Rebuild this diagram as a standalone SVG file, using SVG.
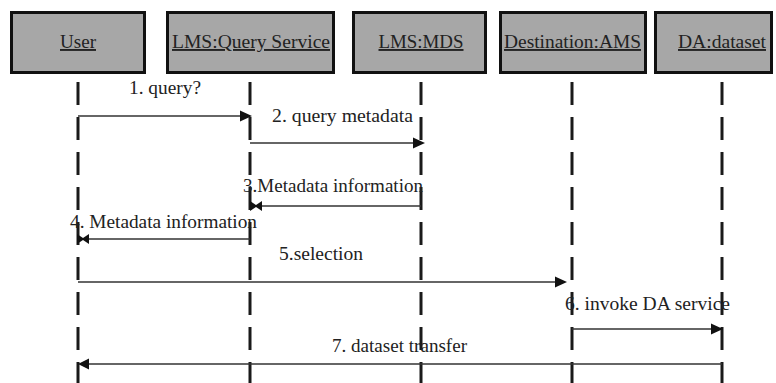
<svg xmlns="http://www.w3.org/2000/svg" width="776" height="383" viewBox="0 0 776 383">
  <style>
    .box { fill: #a7a7a7; stroke: #111; stroke-width: 3; }
    .name { font-family: "Liberation Serif", "DejaVu Serif", "Noto Serif", Tinos, serif; font-size: 19px; fill: #222; text-anchor: middle; text-decoration: underline; }
    .life { stroke: #1a1a1a; stroke-width: 3; stroke-dasharray: 23 12; fill: none; }
    .msg { stroke: #333; stroke-width: 1.6; fill: none; }
    .head { fill: #111; stroke: none; }
    .lbl { font-family: "Liberation Serif", "DejaVu Serif", "Noto Serif", Tinos, serif; font-size: 19px; fill: #222; }
  </style>

  <rect width="776" height="383" fill="#ffffff"/>

  <!-- participants: header box + dashed lifeline -->
  <g id="user">
    <rect class="box" x="11.5" y="12.5" width="133" height="60"/>
    <text class="name" x="78" y="48" textLength="36" lengthAdjust="spacingAndGlyphs">User</text>
    <line class="life" x1="78" y1="82" x2="78" y2="383"/>
  </g>
  <g id="query-service">
    <rect class="box" x="167.5" y="12.5" width="166" height="60"/>
    <text class="name" x="251" y="48" textLength="158" lengthAdjust="spacingAndGlyphs">LMS:Query Service</text>
    <line class="life" x1="250" y1="82" x2="250" y2="383"/>
  </g>
  <g id="mds">
    <rect class="box" x="353.5" y="12.5" width="132" height="60"/>
    <text class="name" x="421" y="48" textLength="85" lengthAdjust="spacingAndGlyphs">LMS:MDS</text>
    <line class="life" x1="421" y1="82" x2="421" y2="383"/>
  </g>
  <g id="destination-ams">
    <rect class="box" x="500.5" y="12.5" width="145" height="60"/>
    <text class="name" x="572.5" y="48" textLength="137" lengthAdjust="spacingAndGlyphs">Destination:AMS</text>
    <line class="life" x1="572" y1="82" x2="572" y2="383"/>
  </g>
  <g id="da-dataset">
    <rect class="box" x="655.5" y="12.5" width="116" height="60"/>
    <text class="name" x="722" y="48" textLength="88" lengthAdjust="spacingAndGlyphs">DA:dataset</text>
    <line class="life" x1="722" y1="82" x2="722" y2="383"/>
  </g>

  <!-- messages -->
  <g id="messages">
    <!-- 1 -->
    <line class="msg" x1="78" y1="116" x2="244" y2="116"/>
    <polygon class="head" points="240,110.5 252,116 240,121.5"/>
    <text class="lbl" x="129" y="94" textLength="72" lengthAdjust="spacingAndGlyphs">1. query?</text>

    <!-- 2 -->
    <line class="msg" x1="250" y1="143" x2="417" y2="143"/>
    <polygon class="head" points="413,137.5 425,143 413,148.5"/>
    <text class="lbl" x="272" y="122" textLength="141" lengthAdjust="spacingAndGlyphs">2. query metadata</text>

    <!-- 3 -->
    <line class="msg" x1="421" y1="206" x2="258" y2="206"/>
    <polygon class="head" points="250,201 256,205 262,201 262,211 256,207 250,211"/>
    <text class="lbl" x="243" y="192" textLength="180" lengthAdjust="spacingAndGlyphs">3.Metadata information</text>

    <!-- 4 -->
    <line class="msg" x1="250" y1="239" x2="85" y2="239"/>
    <polygon class="head" points="77,234 83,238 89,234 89,244 83,240 77,244"/>
    <text class="lbl" x="70" y="228" textLength="187" lengthAdjust="spacingAndGlyphs">4. Metadata information</text>

    <!-- 5 -->
    <line class="msg" x1="78" y1="282" x2="559" y2="282"/>
    <polygon class="head" points="555,276.5 567,282 555,287.5"/>
    <text class="lbl" x="279" y="260" textLength="84" lengthAdjust="spacingAndGlyphs">5.selection</text>

    <!-- 6 -->
    <line class="msg" x1="572" y1="329" x2="715" y2="329"/>
    <polygon class="head" points="711,323.5 723,329 711,334.5"/>
    <text class="lbl" x="565" y="310" textLength="165" lengthAdjust="spacingAndGlyphs">6. invoke DA service</text>

    <!-- 7 -->
    <line class="msg" x1="722" y1="364" x2="86" y2="364"/>
    <polygon class="head" points="78,364 89,358.5 89,369.5"/>
    <text class="lbl" x="332" y="352" textLength="135" lengthAdjust="spacingAndGlyphs">7. dataset transfer</text>
  </g>
</svg>
